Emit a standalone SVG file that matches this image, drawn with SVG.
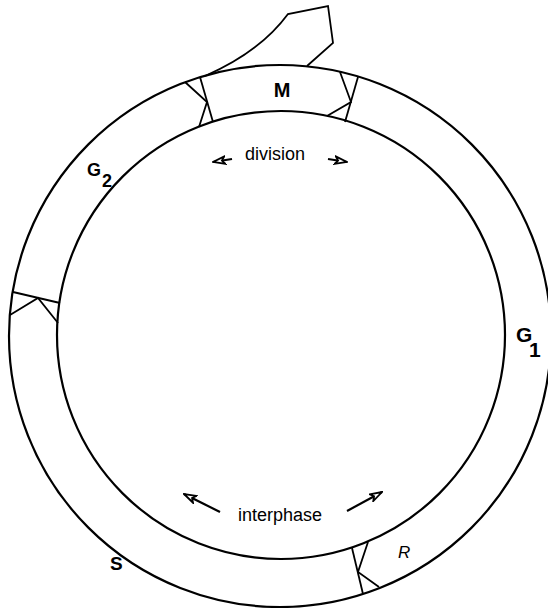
<svg xmlns="http://www.w3.org/2000/svg" width="548" height="608" viewBox="0 0 548 608">
<style>
.ring{fill:none;stroke:#000;stroke-width:2.2}
.ln{fill:none;stroke:#000;stroke-width:1.8;stroke-linejoin:miter}
.lab{font-family:"Liberation Sans",Arial,sans-serif;font-weight:bold;fill:#000}
.txt{font-family:"Liberation Sans",Arial,sans-serif;fill:#000}
.arr{fill:none;stroke:#000;stroke-width:2.2}
</style>
<defs>
<marker id="ah" viewBox="0 0 14 10" refX="13" refY="5" markerWidth="14" markerHeight="10" markerUnits="userSpaceOnUse" orient="auto">
<path d="M1,1.2 L13,5 L1,8.8 L4,5 z" fill="#fff" stroke="#000" stroke-width="1.8"/>
</marker>
</defs>
<rect width="548" height="608" fill="#fff"/>
<g id="ring">
<circle class="ring" cx="280" cy="336" r="271"/>
<circle class="ring" cx="281" cy="335" r="224"/>
</g>
<g id="M-extension">
<path class="ln" d="M205,76 Q260,52 288,14 L328,6 L333,43 L307,66"/>
</g>
<g id="checkpoint-G2-M">
<path class="ln" d="M200,77 L213,122"/>
<path class="ln" d="M185,82 L207,102 L199,127"/>
</g>
<g id="checkpoint-M-G1">
<path class="ln" d="M358,77 L345,122"/>
<path class="ln" d="M340,72 L351,102 L327,116"/>
</g>
<g id="checkpoint-S-G2">
<path class="ln" d="M13,292 L60,303"/>
<path class="ln" d="M10,315 L38,298 L58,323"/>
</g>
<g id="checkpoint-R">
<path class="ln" d="M352,548 L363,594"/>
<path class="ln" d="M368,542 L358,572 L379,587"/>
</g>
<g id="phase-M"><text class="lab" x="282" y="97" font-size="20" text-anchor="middle">M</text></g>
<g id="phase-G2"><text class="lab" x="87" y="176" font-size="18">G</text><text class="lab" x="102" y="187" font-size="18">2</text></g>
<g id="phase-G1"><text class="lab" x="516" y="342" font-size="21">G</text><text class="lab" x="529" y="357" font-size="21">1</text></g>
<g id="phase-S"><text class="lab" x="110" y="570" font-size="19">S</text></g>
<g id="point-R"><text class="txt" x="398" y="558" font-size="17" font-style="italic">R</text></g>
<g id="label-division"><text class="txt" x="275" y="160" font-size="18" text-anchor="middle">division</text></g>
<g id="label-interphase"><text class="txt" x="280" y="521" font-size="18" text-anchor="middle">interphase</text></g>
<g id="connectors">
<path class="arr" d="M232,159 L213,162" marker-end="url(#ah)"/>
<path class="arr" d="M328,159 L347,162" marker-end="url(#ah)"/>
<path class="arr" d="M220,512 L184,494" marker-end="url(#ah)"/>
<path class="arr" d="M347,511 L382,492" marker-end="url(#ah)"/>
</g>
</svg>
